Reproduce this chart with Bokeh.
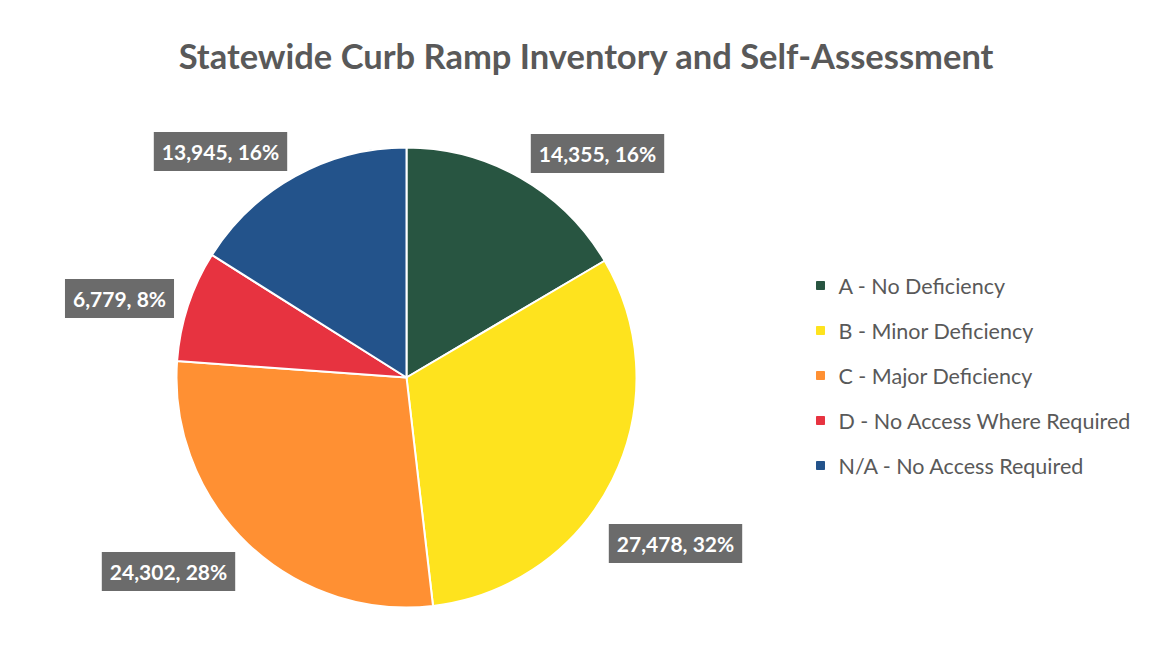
import math
from bokeh.plotting import figure
from bokeh.models import Label, ColumnDataSource
from bokeh.core.properties import value
from bokeh.embed import file_html
from bokeh.resources import INLINE

# ---- data ----
categories = ["A - No Deficiency", "B - Minor Deficiency", "C - Major Deficiency",
              "D - No Access Where Required", "N/A - No Access Required"]
counts = [14355, 27478, 24302, 6779, 13945]
percents = [16, 32, 28, 8, 16]
colors = ["#285541", "#FEE31E", "#FF9033", "#E73340", "#23538B"]
title_text = "Statewide Curb Ramp Inventory and Self-Assessment"

# ---- layout (pixel-based data space) ----
W, H = 1142, 652
CX, CY, R = 406, 275, 230
# label centres (layout only)
label_pos = [(597, 499), (675, 109), (168, 81), (119, 354), (220, 501)]
LEG_X, LEG_Y0, LEG_DY = 820, 367, 45

p = figure(width=W, height=H, x_range=(0, W), y_range=(0, H),
           output_backend="svg", toolbar_location=None, min_border=0,
           background_fill_color="white", border_fill_color="white")
p.axis.visible = False
p.grid.visible = False
p.outline_line_color = None

total = sum(counts)
starts, ends = [], []
cum = 0.0
for c in counts:
    a0 = math.pi / 2 - 2 * math.pi * cum / total
    cum += c
    a1 = math.pi / 2 - 2 * math.pi * cum / total
    starts.append(a1)
    ends.append(a0)

src = ColumnDataSource(dict(start=starts, end=ends, color=colors,
                            x=[CX] * len(counts), y=[CY] * len(counts)))
p.wedge(x="x", y="y", radius=R, start_angle="start", end_angle="end",
        fill_color="color", line_color="white", line_width=2, source=src,
        direction="anticlock")

# data labels
for c, pct, (lx, ly) in zip(counts, percents, label_pos):
    p.add_layout(Label(x=lx, y=ly, text=f"{c:,}, {pct}%", text_align="center",
                       text_baseline="middle", text_color="white",
                       text_font="Lato", text_font_style="bold", text_font_size="21px",
                       background_fill_color="#6b6b6b", background_fill_alpha=1.0,
                       padding=(8, 7)))

# legend
leg_y = [LEG_Y0 - i * LEG_DY for i in range(len(categories))]
p.scatter([LEG_X] * len(categories), leg_y, marker="square", size=8,
          fill_color=colors, line_color=colors)
p.text([LEG_X + 18] * len(categories), leg_y, text=categories,
       text_font=value("Lato"), text_font_size="21.5px", text_color="#595959",
       text_baseline="middle", text_align="left")

# title
p.text([586], [597], text=[title_text], text_font=value("Lato"),
       text_font_size="34.5px", text_font_style="bold", text_color="#595959",
       text_align="center", text_baseline="middle")

open("out.html", "w").write(file_html(p, INLINE))
